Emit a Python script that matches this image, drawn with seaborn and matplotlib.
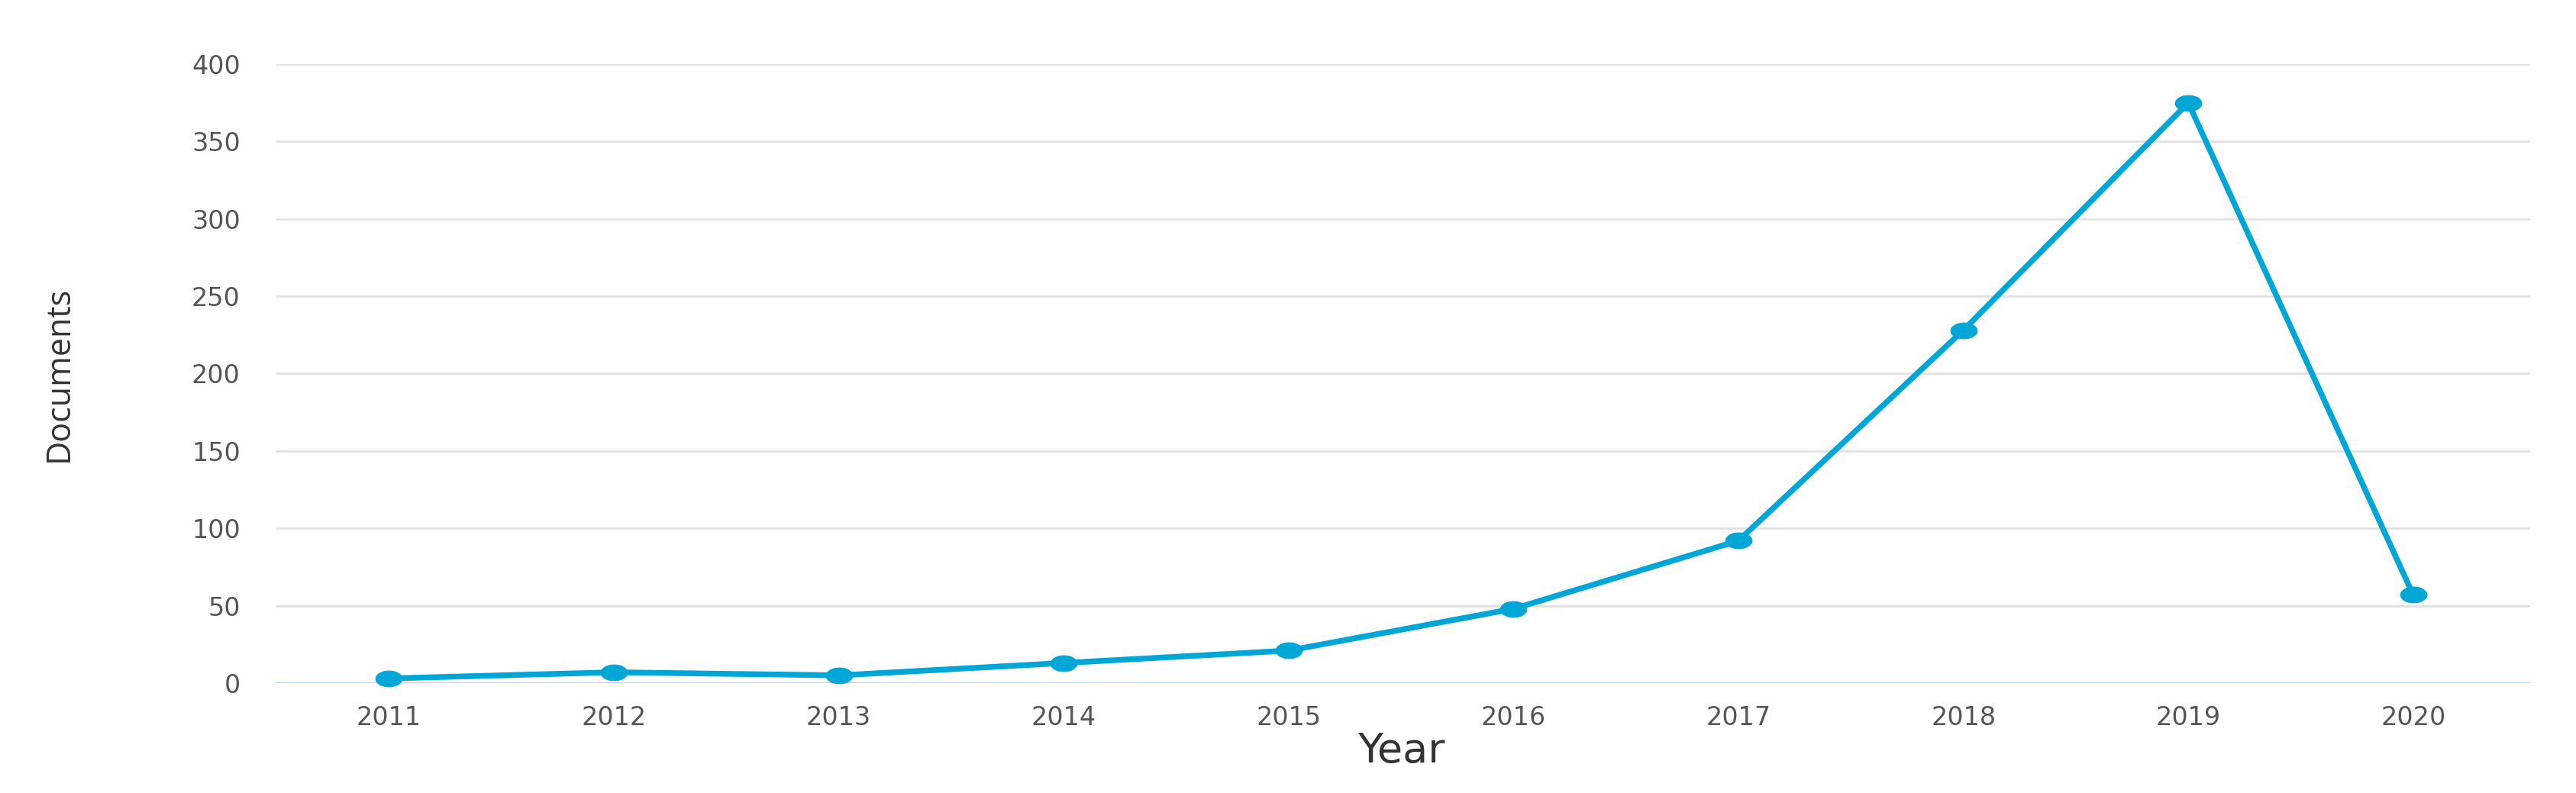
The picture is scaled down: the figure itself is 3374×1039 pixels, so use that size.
import numpy as np
import matplotlib
matplotlib.use('Agg')
import matplotlib.pyplot as plt
from matplotlib.path import Path
import seaborn as sns
import pandas as pd

# values
years = [2011, 2012, 2013, 2014, 2015, 2016, 2017, 2018, 2019, 2020]
documents = [3, 7, 5, 13, 21, 48, 92, 228, 375, 57]
y_ticks = [0, 50, 100, 150, 200, 250, 300, 350, 400]

df = pd.DataFrame({'Year': years, 'Documents': documents})

sns.set_theme(style='white')
plt.rcParams['font.family'] = ['DejaVu Sans']

line_color = '#00a6d6'

# flattened ellipse marker, the original is stretched sideways
t = np.linspace(0, 2 * np.pi, 40)
ellipse = Path(np.column_stack([np.cos(t), 0.6 * np.sin(t)]), closed=True)

fig, ax = plt.subplots(figsize=(33.74, 10.39), dpi=100)
fig.subplots_adjust(left=0.1073, right=0.9822, top=0.9192, bottom=0.1386)

# grid lines
for v in y_ticks:
    ax.axhline(v, color='#bfcbec' if v == 0 else '#e1e1e1', lw=2, zorder=0)

sns.lineplot(data=df, x='Year', y='Documents', ax=ax, color=line_color,
             linewidth=5.4, marker=ellipse, markersize=25,
             markeredgecolor=line_color, markerfacecolor=line_color,
             clip_on=False, zorder=3)

ax.set_xlim(2010.5, 2020.52)
ax.set_ylim(0, 400)
ax.set_xticks(years)
ax.set_xticklabels([str(y) for y in years])
ax.set_yticks(y_ticks)
ax.tick_params(axis='x', labelsize=24, labelcolor='#555555', pad=21, length=0)
ax.tick_params(axis='y', labelsize=24, labelcolor='#555555', pad=34, length=0)

for s in ax.spines.values():
    s.set_visible(False)

ax.set_xlabel('Year', fontsize=39, color='#333333')
ax.xaxis.set_label_coords(0.499, -0.077)
ax.set_ylabel('Documents', fontsize=31, color='#333333',
              family=['Open Sans', 'DejaVu Sans'])
ax.yaxis.set_label_coords(-0.089, 0.5)

plt.savefig('out.png', dpi=100)
plt.close()
